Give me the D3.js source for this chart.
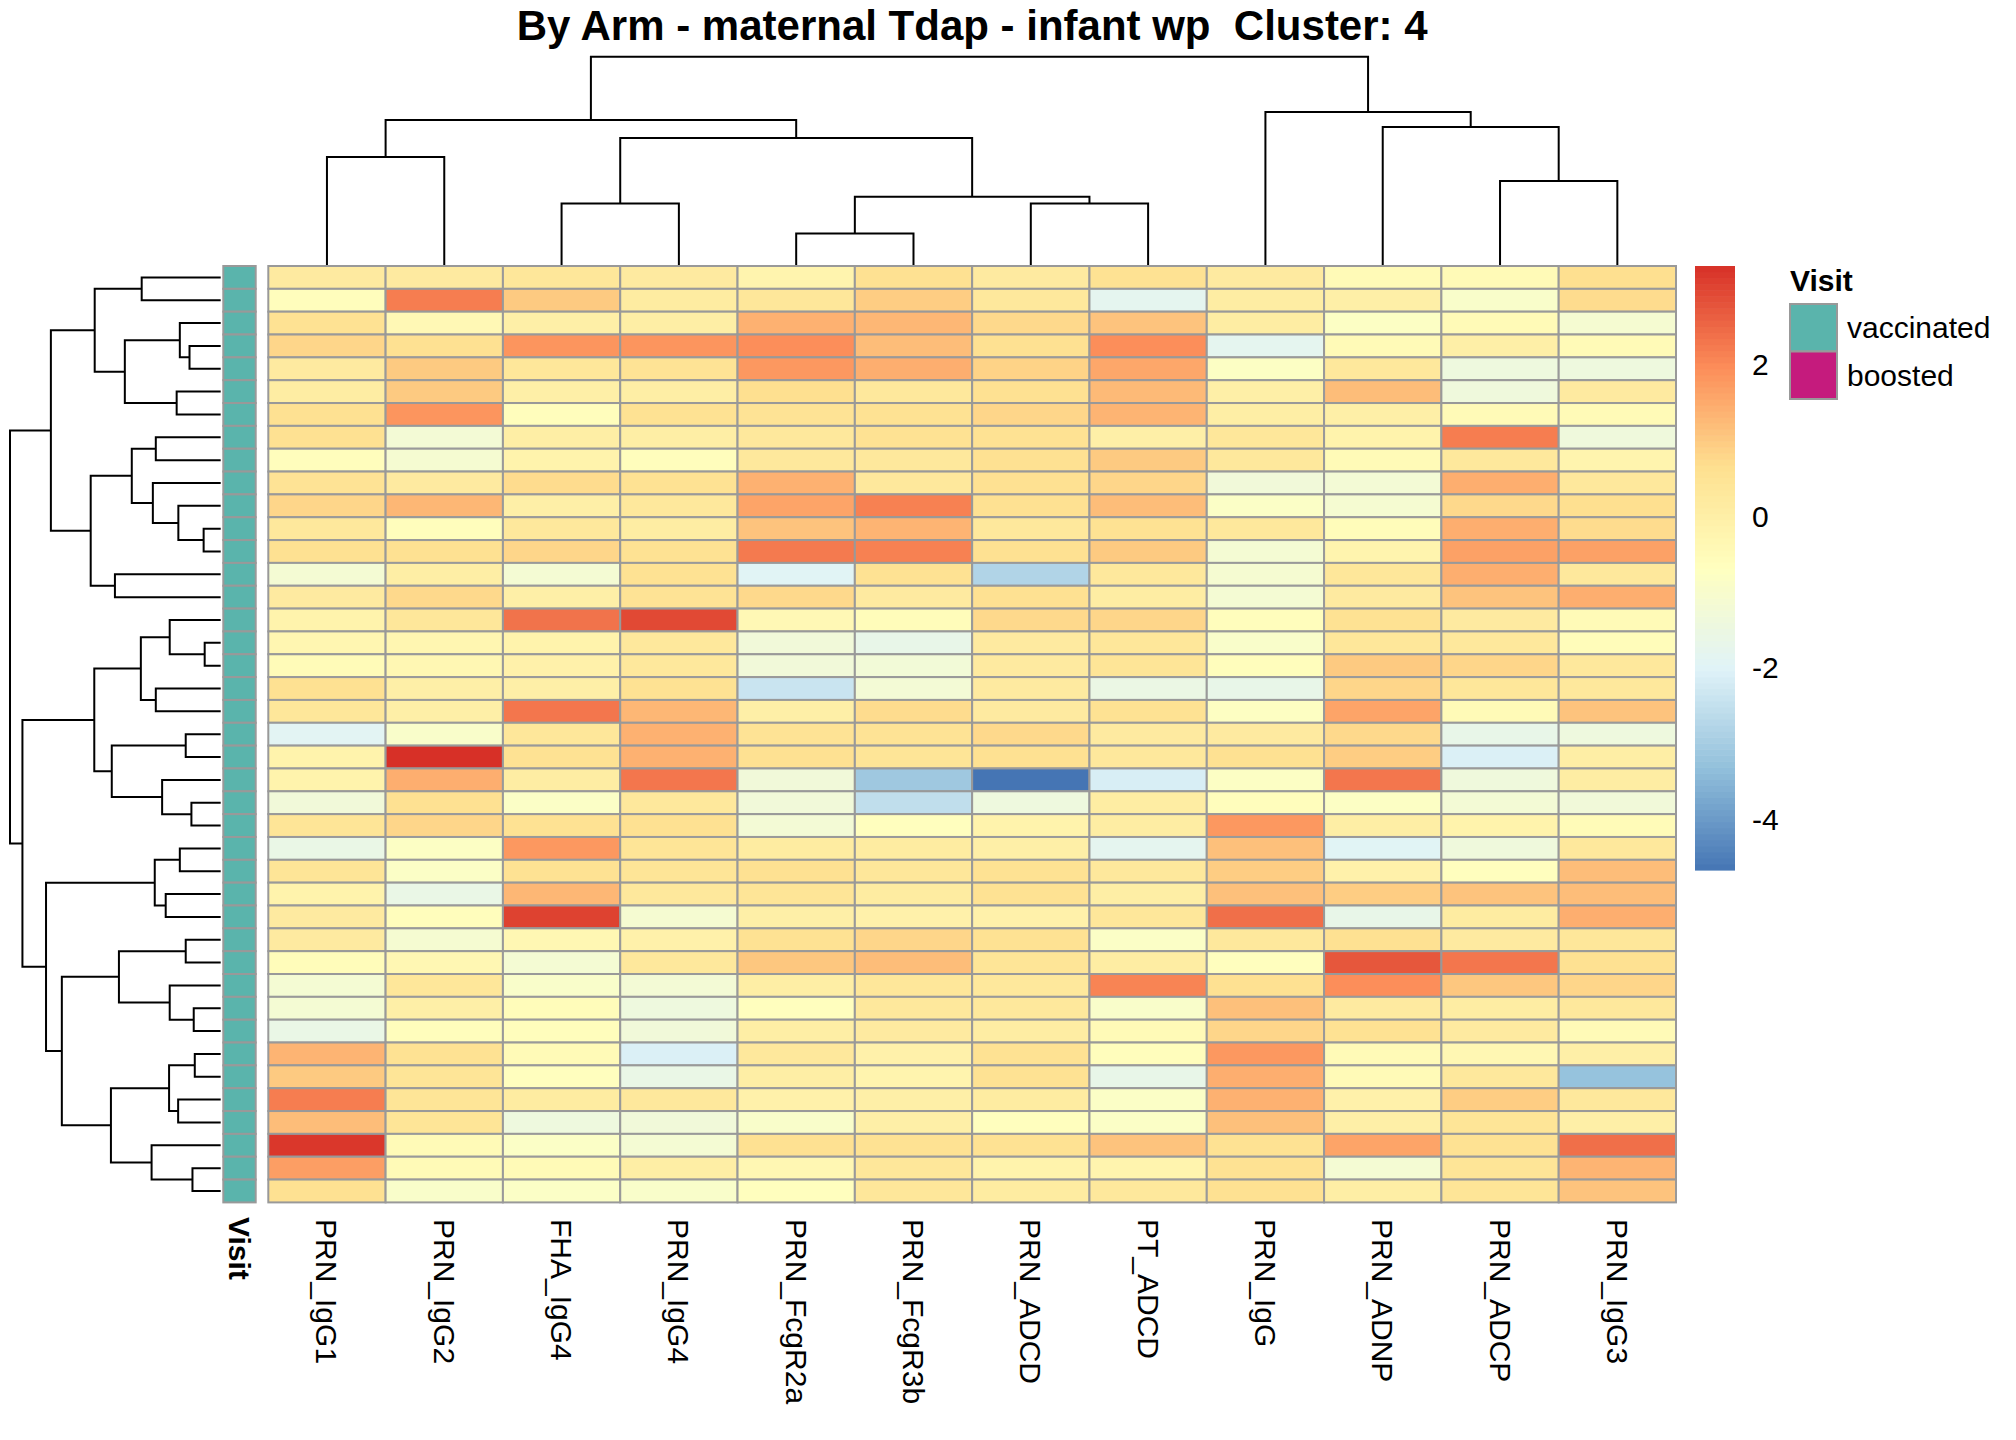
<!DOCTYPE html>
<html lang="en">
<head>
	<meta charset="UTF-8">
	<title>Cluster 4 heatmap</title>
	<style>
		body { margin: 0; background: #fff; }
		text { font-family: "Liberation Sans", Arial, sans-serif; }
	</style>
</head>
<body>
	<svg width="2016" height="1440"></svg>

	<script src="https://d3js.org/d3.v7.min.js"></script>
	<script>
		var title = "By Arm - maternal Tdap - infant wp  Cluster: 4";
		var columns = ["PRN_IgG1","PRN_IgG2","FHA_IgG4","PRN_IgG4","PRN_FcgR2a","PRN_FcgR3b",
			"PRN_ADCD","PT_ADCD","PRN_IgG","PRN_ADNP","PRN_ADCP","PRN_IgG3"];
		var visitLevels = ["vaccinated","boosted"];
		var visitColors = ["#5AB4AC","#C51B7D"];
		// one entry per row, all samples here are vaccinated
		var rowVisit = [
			"vaccinated","vaccinated","vaccinated","vaccinated","vaccinated","vaccinated","vaccinated",
			"vaccinated","vaccinated","vaccinated","vaccinated","vaccinated","vaccinated","vaccinated",
			"vaccinated","vaccinated","vaccinated","vaccinated","vaccinated","vaccinated","vaccinated",
			"vaccinated","vaccinated","vaccinated","vaccinated","vaccinated","vaccinated","vaccinated",
			"vaccinated","vaccinated","vaccinated","vaccinated","vaccinated","vaccinated","vaccinated",
			"vaccinated","vaccinated","vaccinated","vaccinated","vaccinated","vaccinated"];
		// scaled values, rows in dendrogram order
		var values = [
			[0.2, 0.2, 0.35, 0.2, -0.2, 0.6, 0.2, 0.55, 0.2, -0.45, -0.45, 0.65],
			[-0.6, 2.2, 1.0, 0.15, 0.35, 0.95, 0.3, -1.8, 0.1, 0.0, -0.95, 0.7],
			[0.55, -0.4, 0.0, 0.05, 1.4, 1.3, 0.75, 1.1, 0.1, -0.8, -0.45, -1.1],
			[0.8, 0.6, 1.85, 1.85, 1.95, 1.2, 0.6, 1.95, -1.8, -0.45, 0.0, -0.45],
			[0.2, 1.0, 0.35, 0.5, 1.8, 1.45, 0.85, 1.55, -0.8, 0.3, -1.4, -1.4],
			[0.1, 1.0, 0.0, 0.05, 0.65, 0.3, 0.6, 1.25, 0.0, 1.2, -1.35, 0.2],
			[0.6, 1.85, -0.6, 0.55, 0.5, 0.55, 0.8, 1.35, 0.05, 0.0, -0.45, -0.45],
			[0.6, -1.2, 0.05, 0.05, 0.3, 0.55, 0.55, 0.0, 0.35, -0.15, 2.2, -1.35],
			[-0.6, -1.1, -0.15, -0.6, 0.3, 0.3, 0.6, 1.0, 0.3, -0.45, 0.3, -0.2],
			[0.5, 0.2, 0.7, 0.55, 1.4, 0.3, 0.6, 0.8, -1.3, -1.2, 1.45, 0.3],
			[0.8, 1.3, 0.0, 0.3, 1.6, 2.15, 0.6, 1.2, -0.85, -1.1, 0.75, 0.65],
			[0.3, -0.6, 0.3, 0.1, 1.1, 1.35, 0.3, 0.55, 0.3, -0.55, 1.45, 0.7],
			[0.6, 0.6, 0.8, 0.55, 2.25, 2.15, 0.6, 1.0, -1.15, -0.2, 1.65, 1.65],
			[-1.15, 0.05, -1.15, 0.55, -1.95, 0.55, -2.8, 0.3, -1.1, 0.35, 1.45, 0.3],
			[0.2, 0.75, 0.0, 0.5, 0.75, 0.2, 0.6, 0.1, -1.15, 0.2, 1.1, 1.45],
			[-0.15, 0.35, 2.35, 2.95, -0.4, -0.55, 0.75, 0.8, -0.6, 0.55, 0.2, -0.45],
			[-0.3, -0.3, -0.15, 0.3, -1.3, -1.65, 0.2, 0.35, -0.95, 0.35, 0.3, -0.55],
			[-0.5, -0.35, -0.1, 0.3, -1.3, -1.25, 0.2, 0.45, -0.6, 1.0, 0.8, 0.3],
			[0.6, 0.0, 0.0, 0.55, -2.4, -1.2, 0.2, -1.55, -1.65, 0.8, 0.35, 0.3],
			[0.35, 0.0, 2.3, 1.3, 0.0, 0.7, 0.2, 0.55, -0.75, 1.6, -0.45, 1.1],
			[-1.9, -0.95, 0.35, 1.4, 0.5, 0.5, 0.75, 0.2, 0.2, 0.75, -1.65, -1.4],
			[-0.15, 3.3, 0.55, 1.4, 0.6, 0.45, 0.6, 0.3, 0.6, 0.95, -2.1, 0.05],
			[-0.15, 1.45, 0.1, 2.3, -1.3, -3.1, -4.67, -2.15, -0.8, 2.3, -1.35, 0.1],
			[-1.3, 0.6, -0.85, 0.3, -1.3, -2.55, -1.4, 0.1, -0.6, -0.8, -1.2, -1.3],
			[0.45, 0.8, 0.55, 0.6, -1.2, -0.65, -0.15, 0.1, 1.8, 0.05, -0.15, -0.5],
			[-1.6, -0.8, 1.8, 0.45, 0.15, 0.15, 0.0, -1.8, 1.15, -1.95, -1.35, 0.3],
			[0.45, -0.85, 0.55, 0.45, 0.6, 0.35, 0.55, 0.3, 0.95, -0.1, -0.65, 1.2],
			[-0.15, -1.6, 1.3, 0.3, 0.45, 0.15, 0.55, 0.05, 1.15, 0.95, 1.1, 1.2],
			[0.2, -0.6, 3.05, -1.1, 0.0, -0.1, -0.1, 0.35, 2.4, -1.65, 0.15, 1.45],
			[0.2, -1.1, -0.35, -0.1, 0.55, 0.8, 0.55, -0.85, 0.3, 0.6, 0.2, 0.35],
			[-0.55, -0.35, -1.15, 0.3, 1.05, 1.2, 0.45, 0.1, -0.65, 2.75, 2.3, 0.6],
			[-1.15, 0.35, -0.95, -1.2, 0.05, 0.35, 0.3, 2.1, 0.6, 1.95, 1.05, 0.8],
			[-1.15, 0.0, -0.55, -1.4, -0.65, 0.3, 0.3, -0.95, 1.15, 0.2, 0.1, 0.3],
			[-1.6, -0.6, -0.6, -1.3, 0.05, 0.2, 0.1, -0.45, 0.8, 0.55, 0.2, -0.45],
			[1.35, 0.55, -0.45, -2.1, 0.3, -0.1, 0.55, -0.6, 1.8, -0.45, -0.35, 0.0],
			[1.0, 0.45, -0.65, -1.6, 0.05, -0.2, 0.55, -1.65, 1.45, -0.45, 0.3, -3.25],
			[2.2, 0.45, 0.15, 0.3, -0.1, 0.0, 0.15, -0.85, 1.4, -0.1, 0.95, 0.3],
			[1.2, 0.45, -1.4, -1.3, -0.95, 0.0, -0.65, -0.85, 1.15, 0.0, 0.45, 0.0],
			[3.2, -0.45, -0.85, -1.15, 0.6, 0.55, 0.55, 1.1, 0.55, 1.6, 0.55, 2.4],
			[1.7, -0.45, -0.45, 0.05, -0.35, 0.35, -0.15, -0.2, 0.55, -1.15, 0.45, 1.35],
			[0.6, -0.95, -0.85, -0.95, -0.65, 0.35, 0.15, 0.3, 0.6, 0.05, 0.45, 1.1]
		];
		// dendrograms: [height, left, right], leaves are row / column indexes
		var rowTree = [10,
			[8.06,
				[5.98, [3.75, 0, 1], [4.55, [1.94, 2, [1.48, 3, 4]], [2.09, 5, 6]]],
				[6.17, [4.22, [3.08, 7, 8], [3.22, 9, [2.01, 10, [0.81, 11, 12]]]], [5.02, 13, 14]]],
			[9.41,
				[6.0, [3.79, [2.42, 15, [0.76, 16, 17]], [3.08, 18, 19]],
					[5.17, [1.66, 20, 21], [2.78, 22, [1.39, 23, 24]]]],
				[8.29,
					[3.13, [1.94, 25, 26], [2.61, 27, 28]],
					[7.54,
						[4.83, [1.66, 29, 30], [2.42, 31, [1.28, 32, 33]]],
						[5.21, [2.45, [1.23, 34, 35], [2.02, 36, 37]], [3.28, 38, [1.34, 39, 40]]]]]]];
		var colTree = [10,
			[6.96, [5.19, 0, 1], [6.10, [2.95, 2, 3], [3.28, [1.51, 4, 5], [2.95, 6, 7]]]],
			[7.34, 8, [6.63, 9, [4.03, 10, 11]]]];
		var legendTicks = [-4, -2, 0, 2];
		var rampColors = ["#4575B4","#91BFDB","#E0F3F8","#FFFFBF","#FEE090","#FC8D59","#D73027"];

		var svg = d3.select("svg");
		var border = "#999999";

		var xScale = d3.scaleBand().domain(d3.range(columns.length)).range([268.3, 1676]);
		var yScale = d3.scaleBand().domain(d3.range(values.length)).range([266, 1202.4]);

		var vmin = d3.min(values, function(r){ return d3.min(r); });
		var vmax = d3.max(values, function(r){ return d3.max(r); });
		var color = d3.scaleLinear()
			.domain(rampColors.map(function(c, i){ return vmin + (vmax - vmin) * i / (rampColors.length - 1); }))
			.range(rampColors)
			.interpolate(d3.interpolateRgb);

		// 标题
		svg.append("text")
			.attr("x", (xScale.range()[0] + xScale.range()[1]) / 2)
			.attr("y", 40)
			.attr("text-anchor", "middle")
			.style("white-space", "pre")
			.attr("font-size", 42)
			.attr("font-weight", "bold")
			.text(title);

		// heatmap cells
		var cells = [];
		values.forEach(function(row, i){
			row.forEach(function(v, j){ cells.push({r: i, c: j, v: v}); });
		});
		svg.append("g").selectAll("rect")
			.data(cells)
			.enter()
			.append("rect")
			.attr("x", function(d){ return xScale(d.c); })
			.attr("y", function(d){ return yScale(d.r); })
			.attr("width", xScale.bandwidth())
			.attr("height", yScale.bandwidth())
			.attr("fill", function(d){ return color(d.v); })
			.attr("stroke", border)
			.attr("stroke-width", 2);

		// Visit annotation column
		var visitColor = d3.scaleOrdinal().domain(visitLevels).range(visitColors);
		var annX = d3.scaleBand().domain(["Visit"]).range([223.3, 255.7]);
		svg.append("g").selectAll("rect")
			.data(rowVisit)
			.enter()
			.append("rect")
			.attr("x", annX("Visit"))
			.attr("y", function(d, i){ return yScale(i); })
			.attr("width", annX.bandwidth())
			.attr("height", yScale.bandwidth())
			.attr("fill", function(d){ return visitColor(d); })
			.attr("stroke", border)
			.attr("stroke-width", 2);

		// column labels, rotated
		svg.append("g").selectAll("text")
			.data(columns)
			.enter()
			.append("text")
			.attr("transform", function(d, i){
				return "translate(" + (xScale(i) + xScale.bandwidth() / 2) + ",1219) rotate(90)";
			})
			.attr("dy", "0.35em")
			.attr("font-size", 30)
			.text(function(d){ return d; });

		svg.append("text")
			.attr("transform", "translate(" + (annX("Visit") + annX.bandwidth() / 2) + ",1217) rotate(90)")
			.attr("dy", "0.35em")
			.attr("font-size", 30)
			.attr("font-weight", "bold")
			.text("Visit");

		// dendrograms
		function drawTree(g, node, pos, hs, vertical){
			if (typeof node === "number") return {p: pos(node), h: 0};
			var a = drawTree(g, node[1], pos, hs, vertical);
			var b = drawTree(g, node[2], pos, hs, vertical);
			var h = node[0];
			var p = vertical
				? "M" + a.p + "," + hs(a.h) + "V" + hs(h) + "H" + b.p + "V" + hs(b.h)
				: "M" + hs(a.h) + "," + a.p + "H" + hs(h) + "V" + b.p + "H" + hs(b.h);
			g.append("path").attr("d", p);
			return {p: (a.p + b.p) / 2, h: h};
		}
		var colH = d3.scaleLinear().domain([0, 10]).range([265, 56.7]);
		var rowH = d3.scaleLinear().domain([0, 10]).range([220.7, 10]);
		var dendro = svg.append("g")
			.attr("fill", "none")
			.attr("stroke", "#000")
			.attr("stroke-width", 2);
		drawTree(dendro, colTree, function(i){ return xScale(i) + xScale.bandwidth() / 2; }, colH, true);
		drawTree(dendro, rowTree, function(i){ return yScale(i) + yScale.bandwidth() / 2; }, rowH, false);

		// colour legend
		var legY = d3.scaleLinear().domain([vmin, vmax]).range([870, 266]);
		var steps = d3.range(0, 100);
		var stepV = (vmax - vmin) / 100;
		svg.append("g").selectAll("rect")
			.data(steps)
			.enter()
			.append("rect")
			.attr("x", 1695)
			.attr("width", 40)
			.attr("y", function(d){ return legY(vmin + (d + 1) * stepV); })
			.attr("height", function(d){ return legY(vmin + d * stepV) - legY(vmin + (d + 1) * stepV) + 0.6; })
			.attr("fill", function(d){ return color(vmin + (d + 0.5) * stepV); });
		svg.append("g").selectAll("text")
			.data(legendTicks)
			.enter()
			.append("text")
			.attr("x", 1752)
			.attr("y", function(d){ return legY(d); })
			.attr("dy", "0.35em")
			.attr("font-size", 30)
			.text(function(d){ return d; });

		// Visit legend
		svg.append("text")
			.attr("x", 1790)
			.attr("y", 291)
			.attr("font-size", 30)
			.attr("font-weight", "bold")
			.text("Visit");
		var keyY = d3.scaleBand().domain(visitLevels).range([304, 399]);
		var keys = svg.append("g").selectAll("g")
			.data(visitLevels)
			.enter()
			.append("g");
		keys.append("rect")
			.attr("x", 1790)
			.attr("y", function(d){ return keyY(d); })
			.attr("width", 47)
			.attr("height", keyY.bandwidth())
			.attr("fill", function(d){ return visitColor(d); })
			.attr("stroke", border)
			.attr("stroke-width", 2);
		keys.append("text")
			.attr("x", 1847)
			.attr("y", function(d){ return keyY(d) + keyY.bandwidth() / 2; })
			.attr("dy", "0.35em")
			.attr("font-size", 30)
			.text(function(d){ return d; });
	</script>
</body>
</html>
